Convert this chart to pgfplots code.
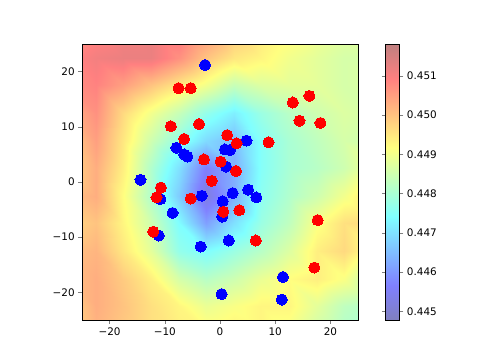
\documentclass[border=0pt]{standalone}
\usepackage{fontspec}
\setmainfont{DejaVu Sans}
\usepackage{pgfplots}
\pgfplotsset{compat=1.18}
\usepackage{pgfplotstable}
\pgfplotstableread{
x y c
-25 -25 0.4496
-20 -25 0.4502
-15 -25 0.4499
-10 -25 0.4496
-5 -25 0.4494
0 -25 0.4493
5 -25 0.4494
10 -25 0.4493
15 -25 0.4490
20 -25 0.4485
25 -25 0.4481
-25 -20 0.4497
-20 -20 0.4503
-15 -20 0.4500
-10 -20 0.4496
-5 -20 0.4493
0 -20 0.4489
5 -20 0.4491
10 -20 0.4493
15 -20 0.4493
20 -20 0.4488
25 -20 0.4483
-25 -15 0.4500
-20 -15 0.4503
-15 -15 0.4499
-10 -15 0.4494
-5 -15 0.4486
0 -15 0.4482
5 -15 0.4485
10 -15 0.4489
15 -15 0.4492
20 -15 0.4494
25 -15 0.4491
-25 -10 0.4500
-20 -10 0.4502
-15 -10 0.4495
-10 -10 0.4488
-5 -10 0.4477
0 -10 0.4474
5 -10 0.4478
10 -10 0.4482
15 -10 0.4487
20 -10 0.4494
25 -10 0.4497
-25 -5 0.4497
-20 -5 0.4500
-15 -5 0.4493
-10 -5 0.4485
-5 -5 0.4474
0 -5 0.4461
5 -5 0.4470
10 -5 0.4478
15 -5 0.4483
20 -5 0.4491
25 -5 0.4496
-25 0 0.4500
-20 0 0.4503
-15 0 0.4492
-10 0 0.4481
-5 0 0.4467
0 0 0.4452
5 0 0.4463
10 0 0.4476
15 0 0.4481
20 0 0.4485
25 0 0.4490
-25 5 0.4497
-20 5 0.4503
-15 5 0.4494
-10 5 0.4481
-5 5 0.4470
0 5 0.4456
5 5 0.4463
10 5 0.4475
15 5 0.4480
20 5 0.4482
25 5 0.4485
-25 10 0.4498
-20 10 0.4505
-15 10 0.4495
-10 10 0.4485
-5 10 0.4477
0 10 0.4469
5 10 0.4465
10 10 0.4475
15 10 0.4480
20 10 0.4483
25 10 0.4486
-25 15 0.4502
-20 15 0.4507
-15 15 0.4497
-10 15 0.4490
-5 15 0.4484
0 15 0.4477
5 15 0.4472
10 15 0.4478
15 15 0.4482
20 15 0.4485
25 15 0.4487
-25 20 0.4507
-20 20 0.4509
-15 20 0.4505
-10 20 0.4500
-5 20 0.4495
0 20 0.4490
5 20 0.4484
10 20 0.4487
15 20 0.4488
20 20 0.4488
25 20 0.4486
-25 25 0.4508
-20 25 0.4511
-15 25 0.4512
-10 25 0.4512
-5 25 0.4507
0 25 0.4500
5 25 0.4495
10 25 0.4493
15 25 0.4490
20 25 0.4488
25 25 0.4486
}\fieldtable
\pgfplotstableread{
x y
-2.7 21.2
-7.9 6.2
-6.5 5.0
-5.9 4.6
4.8 7.5
0.9 5.9
1.8 5.8
1.1 2.8
-14.4 0.4
-10.8 -3.1
-8.6 -5.6
-3.3 -2.5
2.3 -2.0
5.1 -1.4
6.6 -2.8
0.5 -3.5
0.4 -6.3
-11.1 -9.7
-3.5 -11.7
1.6 -10.6
11.4 -17.2
11.2 -21.3
0.3 -20.3
}\bluepts
\pgfplotstableread{
x y
-7.5 17.0
-5.3 17.0
-8.9 10.1
-3.8 10.5
-6.5 7.8
-2.9 4.1
1.3 8.5
3.0 7.0
8.8 7.2
13.2 14.4
16.2 15.6
14.4 11.1
18.2 10.7
0.1 3.7
2.9 2.0
-1.5 0.2
-10.7 -1.0
-11.5 -2.8
-5.3 -3.0
-12.1 -9.0
0.6 -5.4
3.5 -5.1
17.7 -6.9
6.5 -10.6
17.1 -15.5
}\redpts
\begin{document}
\begin{tikzpicture}[x=1pt,y=1pt]
\path[use as bounding box] (0,0) rectangle (460.8,345.6);
\begin{axis}[
  at={(78.72pt,38.4pt)}, anchor=south west,
  scale only axis, width=264.96pt, height=264.96pt,
  xmin=-25, xmax=25, ymin=-25, ymax=25,
  xtick={-20,-10,0,10,20}, xticklabels={−20,−10,0,10,20},
  ytick={-20,-10,0,10,20}, yticklabels={−20,−10,0,10,20},
  tick align=outside, tick pos=left,
  major tick length=3.5pt,
  tick label style={font=\fontsize{10}{12}\selectfont},
  axis line style={line width=0.8pt},
  axis on top,
  colormap={paljet}{rgb255(0cm)=(128,128,191) rgb255(1cm)=(128,128,255) rgb255(3cm)=(128,255,255) rgb255(5cm)=(255,255,128) rgb255(7cm)=(255,128,128) rgb255(8cm)=(191,128,128)},
  point meta min=0.44478, point meta max=0.45181,
  colorbar,
  colorbar style={
    at={(parent axis.north east)}, anchor=north west, xshift=18pt,
    scale only axis, width=13.44pt, height=264.96pt,
    ytick={0.445,0.446,0.447,0.448,0.449,0.450,0.451},
    yticklabels={0.445,0.446,0.447,0.448,0.449,0.450,0.451},
    tick align=outside, major tick length=3.5pt,
    tick label style={font=\fontsize{10}{12}\selectfont},
    axis line style={line width=0.8pt},
  },
]
\addplot[matrix plot*, shader=interp, mesh/cols=11, point meta=explicit] table[x=x, y=y, meta=c] {\fieldtable};
\addplot[only marks, mark=*, mark size=5.3pt, color=blue, mark options={fill=blue, draw=blue, line width=0pt}] table[x=x,y=y] {\bluepts};
\addplot[only marks, mark=*, mark size=5.3pt, color=red, mark options={fill=red, draw=red, line width=0pt}] table[x=x,y=y] {\redpts};
\end{axis}
\end{tikzpicture}
\end{document}
